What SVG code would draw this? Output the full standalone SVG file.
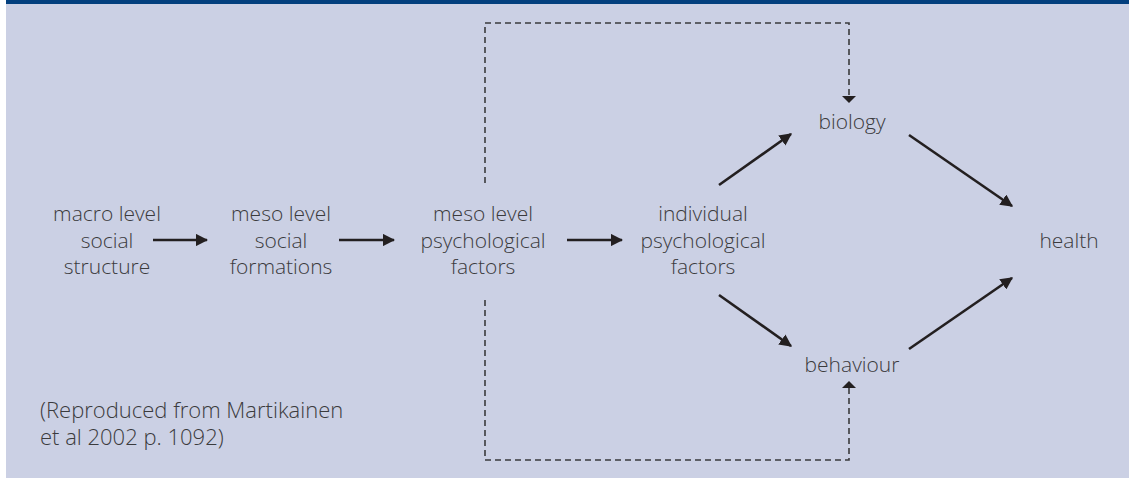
<svg xmlns="http://www.w3.org/2000/svg" width="1129" height="491" viewBox="0 0 1129 491">
<defs>
<style>
text{font-family:"Open Sans","Liberation Sans",sans-serif;font-weight:300;font-size:21px;fill:#3b3b3d;text-anchor:middle}
text.cap{text-anchor:start;font-size:22px}
.solid{stroke:#231f20;stroke-width:2.6;fill:none}
.dash{stroke:#3a3a3c;stroke-width:1.6;fill:none;stroke-dasharray:6 4}
</style>
<marker id="ah" viewBox="0 0 10 10" refX="9" refY="5" markerWidth="4.8" markerHeight="4.8" markerUnits="strokeWidth" orient="auto">
<path d="M0,0 L10,5 L0,10 z" fill="#231f20"/>
</marker>
</defs>
<rect x="0" y="0" width="1129" height="491" fill="#ffffff"/>
<rect x="6" y="0" width="1123" height="478" fill="#cbd0e4"/>
<rect x="6" y="0" width="1123" height="4" fill="#033f7e"/>

<g id="connectors">
<line class="solid" x1="153" y1="240" x2="207" y2="240" marker-end="url(#ah)"/>
<line class="solid" x1="339" y1="240" x2="394" y2="240" marker-end="url(#ah)"/>
<line class="solid" x1="567" y1="240" x2="622" y2="240" marker-end="url(#ah)"/>
<line class="solid" x1="719" y1="185" x2="791" y2="134" marker-end="url(#ah)"/>
<line class="solid" x1="719" y1="295" x2="791" y2="346" marker-end="url(#ah)"/>
<line class="solid" x1="909" y1="135" x2="1012" y2="206" marker-end="url(#ah)"/>
<line class="solid" x1="909" y1="349" x2="1012" y2="278" marker-end="url(#ah)"/>
<polyline class="dash" points="485,183 485,23 849,23 849,97"/>
<path d="M842,96 L856,96 L849,103 z" fill="#231f20"/>
<polyline class="dash" points="485,300 485,460 849,460 849,388"/>
<path d="M842,388 L856,388 L849,381 z" fill="#231f20"/>
</g>

<g id="macro"><text x="107" y="221">macro level</text><text x="107" y="248">social</text><text x="107" y="274">structure</text></g>
<g id="meso-social"><text x="281" y="221">meso level</text><text x="281" y="248">social</text><text x="281" y="274">formations</text></g>
<g id="meso-psych"><text x="483" y="221">meso level</text><text x="483" y="248">psychological</text><text x="483" y="274">factors</text></g>
<g id="individual"><text x="703" y="221">individual</text><text x="703" y="248">psychological</text><text x="703" y="274">factors</text></g>
<g id="biology"><text x="852" y="129">biology</text></g>
<g id="behaviour"><text x="852" y="372">behaviour</text></g>
<g id="health"><text x="1069" y="248">health</text></g>
<g id="caption"><text class="cap" x="40" y="418">(Reproduced from Martikainen</text><text class="cap" x="40" y="445">et al 2002 p. 1092)</text></g>
</svg>
